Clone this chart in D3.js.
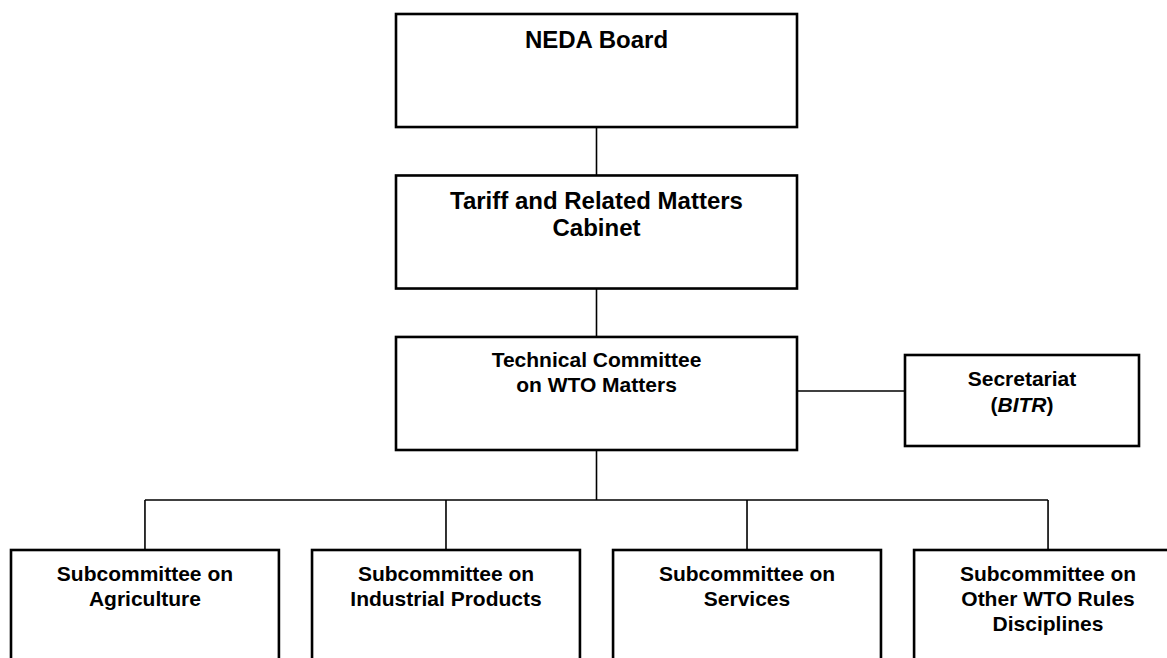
<!DOCTYPE html>
<html>
<head>
<meta charset="utf-8">
<script src="https://cdn.jsdelivr.net/npm/d3@7"></script>
<style>
  html, body { margin: 0; padding: 0; background: #fff; overflow: hidden; }
  text { font-family: "Liberation Sans", Arial, sans-serif; font-weight: bold; fill: #000; }
</style>
</head>
<body>
<div id="chart"></div>
<script>
// Chain of command, top to bottom
const chainLabels = [
    ["NEDA Board"],
    ["Tariff and Related Matters", "Cabinet"],
    ["Technical Committee", "on WTO Matters"]
];

// Subcommittees under the technical committee
const subLabels = [
    ["Subcommittee on", "Agriculture"],
    ["Subcommittee on", "Industrial Products"],
    ["Subcommittee on", "Services"],
    ["Subcommittee on", "Other WTO Rules", "Disciplines"]
];

const width = 1167, height = 658;

const svg = d3.select("#chart")
    .append("svg")
    .attr("width", width)
    .attr("height", height);

// vertical levels for the chain boxes
const yChain = d3.scaleBand()
    .domain(d3.range(chainLabels.length))
    .range([14, 450])
    .paddingInner(0.3);

const chainX = 396, chainW = 401;
const midX = chainX + chainW / 2;

// horizontal slots for the subcommittees
const xSub = d3.scaleBand()
    .domain(d3.range(subLabels.length))
    .range([11, 1182])
    .paddingInner(0.11);

const subTop = 550, busY = 500;

// connectors first, boxes on top
const links = svg.append("g")
    .attr("stroke", "#000")
    .attr("stroke-width", 1.6)
    .attr("fill", "none");

for (let i = 0; i < chainLabels.length - 1; i++) {
    links.append("line")
        .attr("x1", midX).attr("x2", midX)
        .attr("y1", yChain(i) + yChain.bandwidth())
        .attr("y2", yChain(i + 1));
}

// technical committee down to the bus
links.append("line")
    .attr("x1", midX).attr("x2", midX)
    .attr("y1", yChain(2) + yChain.bandwidth())
    .attr("y2", busY);

links.append("line")
    .attr("x1", xSub(0) + xSub.bandwidth() / 2)
    .attr("x2", xSub(subLabels.length - 1) + xSub.bandwidth() / 2)
    .attr("y1", busY).attr("y2", busY);

links.selectAll(".drop")
    .data(subLabels)
    .enter().append("line")
    .attr("class", "drop")
    .attr("x1", (d, i) => xSub(i) + xSub.bandwidth() / 2)
    .attr("x2", (d, i) => xSub(i) + xSub.bandwidth() / 2)
    .attr("y1", busY)
    .attr("y2", subTop);

// secretariat box
const secX = 905, secY = 355, secW = 234, secH = 91;
links.append("line")
    .attr("x1", chainX + chainW).attr("x2", secX)
    .attr("y1", 391).attr("y2", 391);

// chain boxes
const chain = svg.selectAll(".chain")
    .data(chainLabels)
    .enter().append("g")
    .attr("class", "chain");

chain.append("rect")
    .attr("x", chainX)
    .attr("y", (d, i) => yChain(i))
    .attr("width", chainW)
    .attr("height", yChain.bandwidth())
    .attr("fill", "#fff")
    .attr("stroke", "#000")
    .attr("stroke-width", 2.6);

chain.each(function(lines, i) {
    const big = i < 2;
    const size = big ? 24 : 21;
    const lh = big ? 27 : 25;
    const t = d3.select(this).append("text")
        .attr("text-anchor", "middle")
        .style("font-size", size + "px");
    lines.forEach((s, k) => {
        t.append("tspan")
            .attr("x", midX)
            .attr("y", yChain(i) + (big ? 34 : 30) + k * lh)
            .text(s);
    });
});

svg.append("rect")
    .attr("x", secX).attr("y", secY)
    .attr("width", secW).attr("height", secH)
    .attr("fill", "#fff")
    .attr("stroke", "#000")
    .attr("stroke-width", 2.6);

const secText = svg.append("text")
    .attr("text-anchor", "middle")
    .style("font-size", "21px");
secText.append("tspan")
    .attr("x", secX + secW / 2).attr("y", 386)
    .text("Secretariat");
const l2 = secText.append("tspan")
    .attr("x", secX + secW / 2).attr("y", 412);
l2.append("tspan").text("(");
l2.append("tspan").style("font-style", "italic").text("BITR");
l2.append("tspan").text(")");

// subcommittee boxes (run off the bottom of the page)
const subs = svg.selectAll(".sub")
    .data(subLabels)
    .enter().append("g")
    .attr("class", "sub");

subs.append("rect")
    .attr("x", (d, i) => xSub(i))
    .attr("y", subTop)
    .attr("width", xSub.bandwidth())
    .attr("height", 150)
    .attr("fill", "#fff")
    .attr("stroke", "#000")
    .attr("stroke-width", 2.6);

subs.each(function(lines, i) {
    const t = d3.select(this).append("text")
        .attr("text-anchor", "middle")
        .style("font-size", "21px");
    lines.forEach((s, k) => {
        t.append("tspan")
            .attr("x", xSub(i) + xSub.bandwidth() / 2)
            .attr("y", 581 + k * 25)
            .text(s);
    });
});
</script>
</body>
</html>
